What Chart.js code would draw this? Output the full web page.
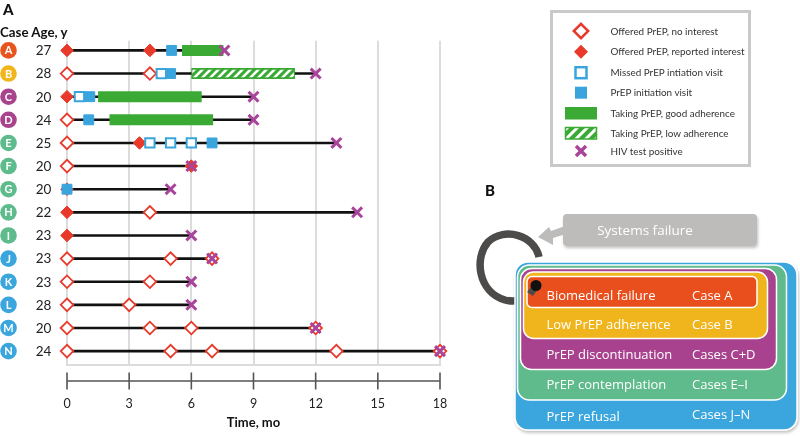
<!DOCTYPE html>
<html><head><meta charset="utf-8">
<script src="https://cdn.jsdelivr.net/npm/chart.js@4"></script>
<style>
html,body{margin:0;padding:0;background:#fff;}
#wrap{position:relative;width:800px;height:436px;overflow:hidden;font-family:Lato,sans-serif;}
#c{position:absolute;left:0;top:0;}
#ov{position:absolute;left:0;top:0;pointer-events:none;}
</style></head><body>
<div id="wrap">
<canvas id="c" width="800" height="436"></canvas>
<svg id="ov" width="800" height="436" viewBox="0 0 800 436" xmlns="http://www.w3.org/2000/svg">
  <defs>
    <pattern id="hatch" patternUnits="userSpaceOnUse" width="7" height="7" patternTransform="rotate(45)">
      <rect width="7" height="7" fill="#3aaa35"/>
      <rect x="0" width="3" height="7" fill="#fff"/>
    </pattern>
    <filter id="sh" x="-10%" y="-10%" width="120%" height="130%">
      <feDropShadow dx="1" dy="2" stdDeviation="1.5" flood-color="#000" flood-opacity="0.25"/>
    </filter>
  </defs>
  <text x="3" y="15" font-family="Lato" font-weight="900" font-size="15" fill="#111">A</text>
  <text x="0" y="37" font-family="Lato" font-weight="700" font-size="13.3" fill="#111">Case Age, y</text>

  <!-- legend -->
  <rect x="551.5" y="11.5" width="198" height="154" fill="#fff" stroke="#c9c9c9" stroke-width="3"/>
  <polygon points="581,23.8 588.2,31 581,38.2 573.8,31" fill="#fff" stroke="#e8392a" stroke-width="2.5"/>
  <polygon points="581,44.7 588,51.7 581,58.7 574,51.7" fill="#e8392a"/>
  <rect x="575.5" y="67.2" width="11" height="11" fill="#fff" stroke="#3aa5dd" stroke-width="2.5"/>
  <rect x="575" y="86.7" width="12" height="12" fill="#3aa5dd"/>
  <rect x="565" y="107" width="32" height="12.5" fill="#3aaa35"/>
  <rect x="565.5" y="127.5" width="31" height="11.5" fill="url(#hatch)" stroke="#3aaa35" stroke-width="1.5"/>
  <path d="M576,146 L586,156 M586,146 L576,156" stroke="#a8449a" stroke-width="3.5"/>
  <g font-family="Lato" font-size="9.9" fill="#333">
    <text x="610.5" y="34.5">Offered PrEP, no interest</text>
    <text x="610.5" y="55">Offered PrEP, reported interest</text>
    <text x="610.5" y="76">Missed PrEP intiation visit</text>
    <text x="610.5" y="96">PrEP initiation visit</text>
    <text x="610.5" y="116.5">Taking PrEP, good adherence</text>
    <text x="610.5" y="136.5">Taking PrEP, low adherence</text>
    <text x="610.5" y="154.5">HIV test positive</text>
  </g>

  <!-- panel B -->
  <text x="485" y="196" font-family="Lato" font-weight="900" font-size="15" fill="#111">B</text>
  <rect x="563" y="214" width="194" height="32" rx="4" fill="#bdbcba" filter="url(#sh)"/>
  <text x="645" y="230" text-anchor="middle" dominant-baseline="central" font-family="Open Sans" font-size="13.5" fill="#fff">Systems failure</text>
  <polygon points="538,237 549,227 551,231 565,226 566,234 553,238 553,245" fill="#bdbcba"/>
  <path d="M539,257 C535,236 505,226 488,242 C474,258 478,292 505,300 C520,304 531,296 536,286" fill="none" stroke="#4d4b4a" stroke-width="7.5"/>
  <g stroke="#fff" stroke-width="1.5" filter="url(#sh)">
    <rect x="515" y="262" width="282" height="168" rx="13" fill="#3aa6dd"/>
    <rect x="517.5" y="265" width="269" height="135" rx="12" fill="#5fba8c"/>
    <rect x="520.5" y="268.5" width="256" height="101" rx="11" fill="#a8438e"/>
    <rect x="523.5" y="272" width="244" height="66.5" rx="10" fill="#f0b51c"/>
    <rect x="527" y="276.5" width="230" height="31" rx="5" fill="#e8501a"/>
  </g>
  <line x1="530" y1="294" x2="536" y2="286" stroke="#4d4b4a" stroke-width="7"/>
  <circle cx="536" cy="285.5" r="5.5" fill="#111"/>
  <g font-family="Open Sans" font-size="13" fill="#fff" dominant-baseline="central">
    <text x="546.5" y="295">Biomedical failure</text><text x="692" y="295">Case A</text>
    <text x="546.5" y="324">Low PrEP adherence</text><text x="692" y="324">Case B</text>
    <text x="546.5" y="354">PrEP discontinuation</text><text x="692" y="354">Cases C+D</text>
    <text x="546.5" y="383.5">PrEP contemplation</text><text x="692" y="383.5">Cases E–I</text>
    <text x="546.5" y="416">PrEP refusal</text><text x="692" y="414">Cases J–N</text>
  </g>
</svg>
</div>
<script>
// ---- data (months since first visit) ----
const caseLetters = ['A','B','C','D','E','F','G','H','I','J','K','L','M','N'];
const caseAges = [27,28,20,24,25,20,20,22,23,23,23,28,20,24];
const caseGroups = ['biomedical','adherence','discontinuation','discontinuation',
  'contemplation','contemplation','contemplation','contemplation','contemplation',
  'refusal','refusal','refusal','refusal','refusal'];
const hivPositiveMonth = [7.6,12,9,9,13,6,5,14,6,7,6,6,12,18];
const offeredNoInterest = [[],[0,4],[],[0],[0],[0],[],[4],[],[0,5,7],[0,4],[0,3],[0,4,6,12],[0,5,7,13,18]];
const offeredInterest = [[0,4],[],[0],[],[3.5],[6],[0],[0],[0],[],[],[],[],[]];
const missedInitiation = [[],[4.55],[0.6],[],[4,5,6],[],[],[],[],[],[],[],[],[]];
const initiationVisit = [[5.05],[5],[1.1],[1.05],[7],[],[0],[],[],[],[],[],[],[]];
const goodAdherence = [[5.55,7.55],null,[1.5,6.5],[2.05,7.05],null,null,null,null,null,null,null,null,null,null];
const lowAdherence = [null,[6,11],null,null,null,null,null,null,null,null,null,null,null,null];
const xTicks = [0,3,6,9,12,15,18];

// ---- styles ----
const groupColor = {biomedical:'#e8541e',adherence:'#f2b51c',discontinuation:'#a8438e',contemplation:'#5ebb8c',refusal:'#3aa6dd'};
const RED='#e8392a', BLUE='#3aa5dd', GREEN='#3aaa35', PURPLE='#a8449a';

function hatchPattern(){
  const c=document.createElement('canvas'); c.width=8; c.height=8;
  const g=c.getContext('2d');
  g.fillStyle=GREEN; g.fillRect(0,0,8,8);
  g.strokeStyle='#fff'; g.lineWidth=2.6;
  g.beginPath();
  g.moveTo(-2,10); g.lineTo(10,-2);
  g.moveTo(-6,6); g.lineTo(6,-6);
  g.moveTo(2,14); g.lineTo(14,2);
  g.stroke();
  return g.createPattern(c,'repeat');
}

const toPoints = arr => arr.flatMap((ts,i)=>ts.map(t=>({x:t,y:i})));
const datasets = [];
caseLetters.forEach((L,i)=>{
  datasets.push({type:'line',showLine:true,data:[{x:0,y:i},{x:hivPositiveMonth[i],y:i}],
    borderColor:'#111',borderWidth:2.6,pointRadius:0,order:10,clip:false});
});
goodAdherence.forEach((r,i)=>{ if(!r) return;
  datasets.push({type:'line',showLine:true,data:[{x:r[0],y:i},{x:r[1],y:i}],
    borderColor:GREEN,borderWidth:11,borderCapStyle:'butt',pointRadius:0,order:8,clip:false});
});
const pat = hatchPattern();
lowAdherence.forEach((r,i)=>{ if(!r) return;
  datasets.push({type:'line',showLine:true,data:[{x:r[0],y:i},{x:r[1],y:i}],
    borderColor:GREEN,borderWidth:11,borderCapStyle:'butt',pointRadius:0,order:8,clip:false});
  datasets.push({type:'line',showLine:true,data:[{x:r[0]+0.05,y:i},{x:r[1]-0.05,y:i}],
    borderColor:pat,borderWidth:7.5,borderCapStyle:'butt',pointRadius:0,order:7,clip:false});
});
datasets.push({type:'scatter',data:toPoints(offeredNoInterest),pointStyle:'rectRot',pointRadius:6.3,
  backgroundColor:'#fff',borderColor:RED,borderWidth:1.8,order:4,clip:false});
datasets.push({type:'scatter',data:toPoints(offeredInterest),pointStyle:'rectRot',pointRadius:6.3,
  backgroundColor:RED,borderColor:RED,borderWidth:1,order:4,clip:false});
datasets.push({type:'scatter',data:toPoints(missedInitiation),pointStyle:'rect',pointRadius:6.6,
  backgroundColor:'#fff',borderColor:BLUE,borderWidth:2,order:3,clip:false});
datasets.push({type:'scatter',data:toPoints(initiationVisit),pointStyle:'rect',pointRadius:7,
  backgroundColor:BLUE,borderColor:BLUE,borderWidth:1,order:2,clip:false});
datasets.push({type:'scatter',data:hivPositiveMonth.map((t,i)=>({x:t,y:i})),pointStyle:'crossRot',pointRadius:7,
  borderColor:PURPLE,backgroundColor:PURPLE,borderWidth:3,order:1,clip:false});

const overlay = {
  id:'overlay',
  afterDraw(chart){
    const {ctx, chartArea, scales:{x,y}} = chart;
    ctx.save();
    const axisY = chartArea.bottom + 16;
    ctx.strokeStyle='#555'; ctx.lineWidth=1.6;
    ctx.beginPath();
    ctx.moveTo(x.getPixelForValue(xTicks[0]), axisY);
    ctx.lineTo(x.getPixelForValue(xTicks[xTicks.length-1]), axisY);
    xTicks.forEach(t=>{const px=x.getPixelForValue(t); ctx.moveTo(px,axisY-8.5); ctx.lineTo(px,axisY+8.5);});
    ctx.stroke();
    caseLetters.forEach((L,i)=>{
      const py=y.getPixelForValue(i);
      ctx.fillStyle=groupColor[caseGroups[i]];
      ctx.beginPath(); ctx.arc(8.5,py,8.3,0,Math.PI*2); ctx.fill();
      ctx.fillStyle='#fff'; ctx.font='bold 11px Lato'; ctx.textAlign='center'; ctx.textBaseline='middle';
      ctx.fillText(L,8.5,py+0.5);
      ctx.fillStyle='#222'; ctx.font='13.5px Lato';
      ctx.fillText(String(caseAges[i]),43.5,py+0.5);
    });
    ctx.restore();
  }
};

new Chart(document.getElementById('c'),{
  type:'scatter',
  data:{datasets},
  options:{
    responsive:false,animation:false,events:[],
    layout:{padding:{left:67,right:360,top:40.7,bottom:5.2}},
    plugins:{legend:{display:false},tooltip:{enabled:false}},
    scales:{
      x:{type:'linear',min:0,max:18,
        afterBuildTicks(s){ s.ticks = xTicks.map(v=>({value:v})); },
        afterFit(s){ s.height = 65.8; },
        ticks:{padding:31,maxRotation:0,color:'#222',font:{family:'Lato',size:12.5}},
        grid:{color:'#dcdcdc',lineWidth:2,drawTicks:false},
        border:{display:true,color:'#dcdcdc',width:2},
        title:{display:true,text:'Time, mo',color:'#111',font:{family:'Lato',size:13,weight:'bold'},padding:{top:6,bottom:0}}
      },
      y:{type:'linear',reverse:true,min:-0.42,max:13.6,display:false}
    }
  },
  plugins:[overlay]
});
</script>
</body></html>
